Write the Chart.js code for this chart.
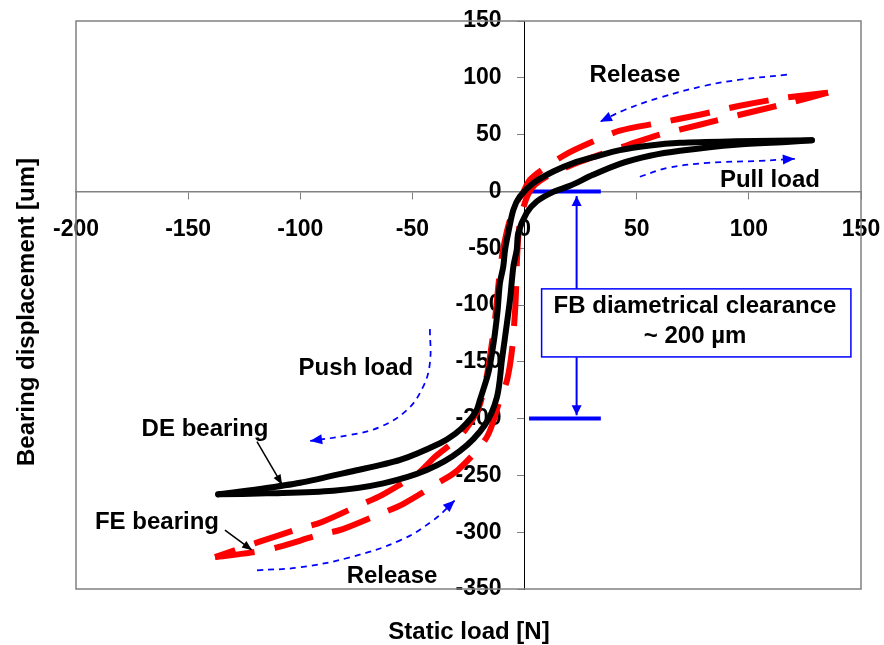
<!DOCTYPE html>
<html>
<head>
<meta charset="utf-8">
<script src="https://cdn.jsdelivr.net/npm/chart.js@4.4.0/dist/chart.umd.min.js"></script>
<style>
  body { margin: 0; background: #fff; }
  #wrap { width: 884px; height: 645px; }
</style>
</head>
<body>
<div id="wrap"><canvas id="myChart" width="884" height="645"></canvas></div>
<script>
const xTicks = [-200, -150, -100, -50, 0, 50, 100, 150];
const yTicks = [-350, -300, -250, -200, -150, -100, -50, 0, 50, 100, 150];

// DE bearing (black), release branch from pull end down to push end, then back
const deUpperX = [128.1, 94.2, 69.3, 55, 42.5, 32.1, 21.7, 12.8, 3.9, -2.1, -5.0, -7.3, -8.7, -9.5, -11.0, -12.0, -13.2, -14.5, -16.2, -19.9, -21.5, -25.8, -31, -37.7, -55.5, -77.8, -100.1, -118, -136.6];
const deUpperY = [45.0, 44.1, 42.8, 40.2, 36.3, 30.9, 24.9, 17.5, 7.3, -4.5, -16.2, -36.7, -51.5, -66.2, -80.8, -104.3, -124.8, -142, -160.1, -183.6, -193, -204.1, -213.5, -221.7, -236.4, -246.8, -256.5, -262, -266.7];
const deLowerX = [-136.6, -115, -85.3, -63, -43.6, -28.8, -17.7, -12.3, -10.1, -6.5, -5.0, -3.5, -2.8, 0.9, 5.4, 12.8, 20.2, 30.5, 42.5, 55.9, 69.3, 94.2, 118.3, 128.1];
const deLowerY = [-266.7, -265.8, -263.5, -257, -245.3, -228.5, -205.6, -181, -148.4, -95.5, -66.2, -51.5, -36.7, -19.1, -8.9, -0.4, 4.9, 14.6, 24.3, 31.4, 35.8, 41.1, 43.7, 45.0];

// FE bearing (red dashed)
const feUpperX = [135.3, 116.1, 96.0, 78.1, 60.3, 42.5, 29.2, 18.0, 9.1, 2.4, -1.2, -2.9, -6.5, -9.6, -11.4, -13.2, -15.0, -17.2, -20.8, -26.6, -31, -39.9, -47.5, -63.6, -73.4, -90.3, -101, -118.8, -138];
const feUpperY = [86.9, 82.5, 75.4, 67.5, 60.4, 53.4, 42.8, 32.2, 20.8, 10.2, -3.0, -7.4, -25, -51.5, -77.9, -113.1, -139.6, -166.0, -192.4, -210.4, -219.4, -233.6, -248, -267.3, -276, -291, -297.3, -308.8, -321.9];
const feLowerX = [-138, -122, -109.9, -92.1, -81.0, -63.6, -54.2, -38.6, -29.7, -16.8, -11.0, -7.8, -5.6, -4.3, -3.8, -3.4, -2.5, -1.2, 1.5, 4.6, 11.3, 24.7, 42.5, 60.3, 78.1, 96.0, 118.3, 135.3];
const feLowerY = [-321.9, -318, -313.1, -302.7, -297.3, -283.2, -275.2, -256.7, -245.2, -216.2, -183.6, -166, -139.6, -107, -86.7, -60.3, -33.8, -18.9, -3, 5.8, 14.6, 26.1, 38.4, 49.9, 58.7, 67.5, 78.1, 86.9];

// blue dotted direction arrows
const relTopX = [117.0, 96.0, 80.4, 60.3, 44.8, 33.6];
const relTopY = [102.7, 98.3, 93.0, 82.5, 71.9, 61.3];
const pullX = [51.4, 63.9, 81.8, 104.9, 120.5];
const pullY = [12.9, 20.7, 25.1, 26.9, 28.7];
const pushX = [-42.2, -42.2, -45.3, -52.4, -64.5, -77.8, -95.6];
const pushY = [-121.1, -151.0, -172.2, -192.4, -207.4, -214.4, -219.7];
const relBotX = [-119.3, -100.1, -77.8, -55.5, -40.8, -31.0];
const relBotY = [-333.6, -330.9, -322.1, -307.2, -289.6, -271.9];

// pointers to the curves
const dePtrX = [-119.3, -108.1];
const dePtrY = [-220.3, -258.2];
const fePtrX = [-133.6, -121.5];
const fePtrY = [-298.2, -315.8];

// clearance marker
const clrBarX = [2, 34];
const clrTopY = [0, 0];
const clrBotY = [-200, -200];
const clrLineX = [23.2, 23.2];
const clrUpY = [-86, -4];
const clrDownY = [-146, -197];
const boxX = [7.6, 145.5];
const boxY = [-85.8, -145.7];

const notes = [
  { text: 'Release', x: 49.2, y: 101.9 },
  { text: 'Pull load', x: 109.4, y: 9.3 },
  { text: 'Push load', x: -75.2, y: -155.4 },
  { text: 'DE bearing', x: -142.5, y: -209.1 },
  { text: 'FE bearing', x: -163.9, y: -291.2 },
  { text: 'Release', x: -59.1, y: -338.7 },
  { text: 'FB diametrical clearance', x: 76, y: -100.8 },
  { text: '~ 200 µm', x: 76, y: -128 }
];

const FONT = 'bold 24px "Liberation Sans", Arial, sans-serif';

function pts(xs, ys) {
  return xs.map((x, i) => ({ x: x, y: ys[i] }));
}

function line(xs, ys, color, width, extra) {
  return Object.assign({
    data: pts(xs, ys),
    showLine: true,
    borderColor: color,
    backgroundColor: color,
    borderWidth: width,
    pointRadius: 0,
    tension: 0
  }, extra || {});
}

const blue = '#0000ff';
const dots = { borderDash: [6, 5] };

const datasets = [
  line(deUpperX, deUpperY, '#000', 6, { tension: 0.3, borderCapStyle: 'round', borderJoinStyle: 'round' }),
  line(deLowerX, deLowerY, '#000', 6, { tension: 0.3, borderCapStyle: 'round', borderJoinStyle: 'round' }),
  line(feUpperX, feUpperY, '#ff0000', 6, { tension: 0.3, borderDash: [40, 20] }),
  line(feLowerX, feLowerY, '#ff0000', 6, { tension: 0.3, borderDash: [40, 20] }),
  line(relTopX, relTopY, blue, 1.75, Object.assign({ tension: 0.4, head: [12, 5] }, dots)),
  line(pullX, pullY, blue, 1.75, Object.assign({ tension: 0.4, head: [12, 5] }, dots)),
  line(pushX, pushY, blue, 1.75, Object.assign({ tension: 0.4, head: [12, 5] }, dots)),
  line(relBotX, relBotY, blue, 1.75, Object.assign({ tension: 0.4, head: [12, 5] }, dots)),
  line(dePtrX, dePtrY, '#000', 1.5, { head: [10, 4] }),
  line(fePtrX, fePtrY, '#000', 1.5, { head: [10, 4] }),
  line(clrBarX, clrTopY, blue, 4),
  line(clrBarX, clrBotY, blue, 4),
  line(clrLineX, clrUpY, blue, 2, { head: [10, 5] }),
  line(clrLineX, clrDownY, blue, 2, { head: [10, 5] })
];

const decor = {
  id: 'decor',
  beforeDatasetsDraw(chart) {
    const { ctx, chartArea: a } = chart;
    ctx.save();
    ctx.strokeStyle = '#808080';
    ctx.lineWidth = 1.5;
    ctx.strokeRect(a.left, a.top, a.right - a.left, a.bottom - a.top);
    ctx.restore();
  },
  afterDatasetsDraw(chart) {
    const { ctx, scales } = chart;
    chart.data.datasets.forEach((ds, i) => {
      if (!ds.head) return;
      const el = chart.getDatasetMeta(i).data;
      const p1 = el[el.length - 2], p2 = el[el.length - 1];
      const ang = Math.atan2(p2.y - p1.y, p2.x - p1.x);
      ctx.save();
      ctx.translate(p2.x, p2.y);
      ctx.rotate(ang);
      ctx.beginPath();
      ctx.moveTo(0, 0);
      ctx.lineTo(-ds.head[0], -ds.head[1]);
      ctx.lineTo(-ds.head[0], ds.head[1]);
      ctx.closePath();
      ctx.fillStyle = ds.borderColor;
      ctx.fill();
      ctx.restore();
    });

    // text box over the clearance line
    const bx1 = scales.x.getPixelForValue(boxX[0]), bx2 = scales.x.getPixelForValue(boxX[1]);
    const by1 = scales.y.getPixelForValue(boxY[0]), by2 = scales.y.getPixelForValue(boxY[1]);
    ctx.save();
    ctx.fillStyle = '#fff';
    ctx.fillRect(bx1, by1, bx2 - bx1, by2 - by1);
    ctx.strokeStyle = blue;
    ctx.lineWidth = 1.5;
    ctx.strokeRect(bx1, by1, bx2 - bx1, by2 - by1);

    ctx.fillStyle = '#000';
    ctx.font = FONT;
    ctx.textAlign = 'center';
    ctx.textBaseline = 'middle';
    notes.forEach(n => {
      ctx.fillText(n.text, scales.x.getPixelForValue(n.x), scales.y.getPixelForValue(n.y));
    });

    // axis titles
    ctx.fillText('Static load [N]', 469, 632);
    ctx.translate(27, 312);
    ctx.rotate(-Math.PI / 2);
    ctx.fillText('Bearing displacement [um]', 0, 0);
    ctx.restore();
  }
};

const tickFont = { family: '"Liberation Sans", Arial, sans-serif', size: 23, weight: 'bold' };

new Chart(document.getElementById('myChart'), {
  type: 'scatter',
  data: { datasets: datasets },
  options: {
    responsive: false,
    animation: false,
    layout: { padding: { left: 76, right: 23, top: 21, bottom: 56 } },
    plugins: { legend: { display: false }, tooltip: { enabled: false } },
    scales: {
      x: {
        type: 'linear',
        position: { y: 0 },
        min: -200,
        max: 150,
        afterBuildTicks: s => { s.ticks = xTicks.map(v => ({ value: v })); },
        afterFit: s => { s.height = 0; s.paddingLeft = 0; s.paddingRight = 0; },
        ticks: { font: tickFont, color: '#000', padding: 17, maxRotation: 0, autoSkip: false },
        grid: { drawOnChartArea: false, drawTicks: true, tickLength: 7, color: '#808080' },
        border: { color: '#808080', width: 1.5 }
      },
      y: {
        type: 'linear',
        position: { x: 0 },
        min: -350,
        max: 150,
        afterBuildTicks: s => { s.ticks = yTicks.map(v => ({ value: v })); },
        afterFit: s => { s.width = 0; s.paddingTop = 0; s.paddingBottom = 0; },
        ticks: {
          font: tickFont,
          color: '#000',
          autoSkip: false,
          // y labels sit flush on a centred axis, so push them off it
          callback: v => v + '\u2002\u2002'
        },
        grid: { drawOnChartArea: false, drawTicks: true, tickLength: 7, color: '#808080' },
        border: { color: '#000', width: 1 }
      }
    }
  },
  plugins: [decor]
});
</script>
</body>
</html>
